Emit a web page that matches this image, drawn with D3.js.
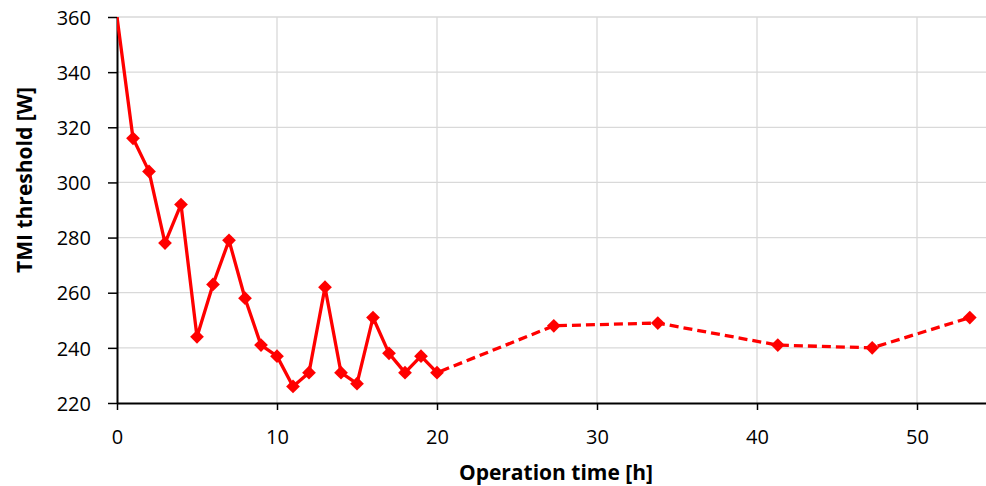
<!DOCTYPE html>
<html>
<head>
<meta charset="utf-8">
<script src="https://cdn.jsdelivr.net/npm/d3@7"></script>
<style>
  html, body { margin: 0; padding: 0; background: #fff; overflow: hidden; }
  text { font-family: "Open Sans", sans-serif; fill: #000; }
</style>
</head>
<body>
<svg id="chart" width="986" height="486"></svg>
<script>
// operation time [h] and TMI threshold [W]
var hours = [0, 1, 2, 3, 4, 5, 6, 7, 8, 9, 10, 11, 12, 13, 14, 15, 16, 17, 18, 19, 20,
             27.3, 33.8, 41.3, 47.2, 53.3];
var threshold = [360, 316, 304, 278, 292, 244, 263, 279, 258, 241, 237, 226, 231, 262, 231, 227, 251, 238, 231, 237, 231,
                 248, 249, 241, 240, 251];
var xTicks = [0, 10, 20, 30, 40, 50];
var yTicks = [220, 240, 260, 280, 300, 320, 340, 360];
var solidUntil = 20; // measured hourly up to here, dashed after

var margin = { top: 17, left: 117 },
    w = 880, h = 386;

var data = hours.map((d, i) => ({ x: d, y: threshold[i] }));

var svg = d3.select("#chart");

var x_scale = d3.scaleLinear().domain([0, 55]).range([margin.left, margin.left + w]);
var y_scale = d3.scaleLinear().domain([220, 360]).range([margin.top + h, margin.top]);

svg.append("clipPath").attr("id", "plotclip")
  .append("rect")
  .attr("x", margin.left).attr("y", margin.top)
  .attr("width", w).attr("height", h);

// gridlines
svg.append("g")
  .selectAll("line.hgrid")
  .data(yTicks.filter(d => d > 220))
  .join("line")
  .attr("class", "hgrid")
  .attr("x1", margin.left).attr("x2", margin.left + w)
  .attr("y1", d => y_scale(d)).attr("y2", d => y_scale(d))
  .attr("stroke", "#d9d9d9").attr("stroke-width", 1.3);

svg.append("g")
  .selectAll("line.vgrid")
  .data(xTicks.filter(d => d > 0))
  .join("line")
  .attr("class", "vgrid")
  .attr("x1", d => x_scale(d)).attr("x2", d => x_scale(d))
  .attr("y1", margin.top).attr("y2", margin.top + h)
  .attr("stroke", "#d9d9d9").attr("stroke-width", 1.3);

// axes
var xAxis = svg.append("g")
  .attr("transform", `translate(0, ${margin.top + h})`)
  .call(d3.axisBottom(x_scale).tickValues(xTicks).tickSize(7).tickSizeOuter(0).tickPadding(20));
var yAxis = svg.append("g")
  .attr("transform", `translate(${margin.left}, 0)`)
  .call(d3.axisLeft(y_scale).tickValues(yTicks).tickSize(9).tickSizeOuter(0).tickPadding(17));

[xAxis, yAxis].forEach(function (a) {
  a.select(".domain").attr("stroke", "#000").attr("stroke-width", 2);
  a.selectAll(".tick line").attr("stroke", "#000").attr("stroke-width", 1.5);
  a.selectAll(".tick text")
    .style("font-family", "'Open Sans', sans-serif")
    .style("font-size", "20px").attr("fill", "#000");
});
xAxis.selectAll(".tick text").attr("dy", "0.71em");
yAxis.selectAll(".tick text").attr("dy", "0.36em");

// series
var line = d3.line().x(d => x_scale(d.x)).y(d => y_scale(d.y));
var plot = svg.append("g").attr("clip-path", "url(#plotclip)");

plot.append("path")
  .datum(data.filter(d => d.x <= solidUntil))
  .attr("d", line)
  .attr("fill", "none").attr("stroke", "#ff0000")
  .attr("stroke-width", 3.3).attr("stroke-linejoin", "round");

plot.append("path")
  .datum(data.filter(d => d.x >= solidUntil))
  .attr("d", line)
  .attr("fill", "none").attr("stroke", "#ff0000")
  .attr("stroke-width", 3.3).attr("stroke-dasharray", "9,5")
  .attr("stroke-dashoffset", -4);

var diamond = d3.symbol().type(d3.symbolDiamond2).size(120);
plot.selectAll("path.marker")
  .data(data.filter(d => d.x > 0))
  .join("path")
  .attr("class", "marker")
  .attr("d", diamond)
  .attr("transform", d => `translate(${x_scale(d.x)}, ${y_scale(d.y)})`)
  .attr("fill", "#ff0000");

// axis titles
svg.append("text")
  .attr("x", 556).attr("y", 480)
  .attr("text-anchor", "middle")
  .style("font-size", "21px").style("font-weight", "bold")
  .text("Operation time [h]");

svg.append("text")
  .attr("transform", "translate(32, 180) rotate(-90)")
  .attr("text-anchor", "middle")
  .style("font-size", "21px").style("font-weight", "bold")
  .text("TMI threshold [W]");
</script>
</body>
</html>
